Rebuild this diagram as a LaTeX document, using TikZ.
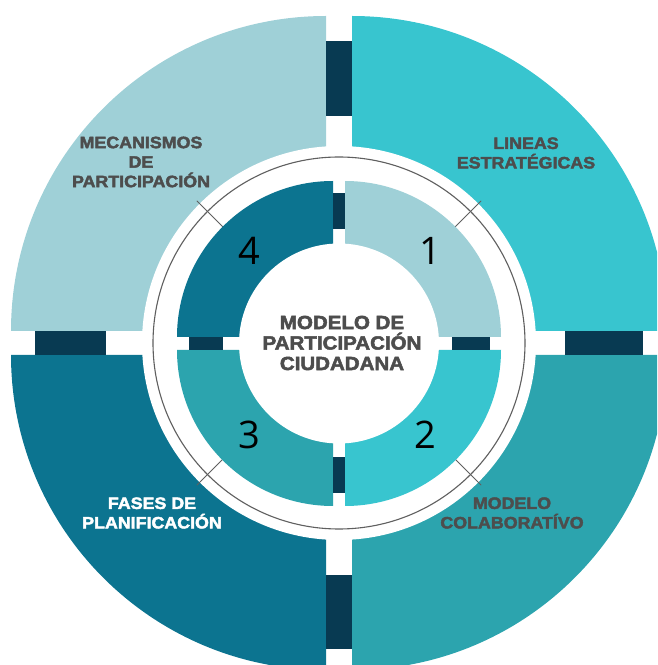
\documentclass[tikz,border=0pt]{standalone}
\usepackage{fontspec}
\setmainfont{Liberation Sans}
\newfontfamily\heavyfont{Liberation Sans Bold}[FakeBold=2.6, FakeStretch=1.08]
\newfontfamily\numfont{Open Sans}
\definecolor{qlight}{HTML}{9FD0D7}
\definecolor{qcyan}{HTML}{38C5CF}
\definecolor{qdark}{HTML}{0C7490}
\definecolor{qmed}{HTML}{2CA4AE}
\definecolor{qnavy}{HTML}{083A52}
\definecolor{tgray}{HTML}{4D4D4D}
\tikzset{
  barfill/.style={fill=qnavy},
  ringline/.style={draw=tgray!90, line width=1.1pt},
  tickline/.style={draw=tgray!90, line width=0.8pt},
  outertext/.style={font=\heavyfont\fontsize{16.5}{19.5}\selectfont, align=center, inner sep=0pt},
  centertext/.style={font=\heavyfont\fontsize{19}{20.5}\selectfont, align=center, inner sep=0pt, text=tgray},
  numtext/.style={font=\numfont\fontsize{38}{40}\selectfont, inner sep=0pt, text=black}
}
\begin{document}
\begin{tikzpicture}[x=1pt,y=1pt]
\useasboundingbox (0,0) rectangle (657,665);
\clip (0,0) rectangle (657,665);
% outer quadrants
\fill[qlight] (326,334) -- ++(180:315) arc[start angle=180,end angle=90,radius=315] -- cycle;
\fill[qcyan]  (352,334) -- ++(90:315) arc[start angle=90,end angle=0,radius=315] -- cycle;
\fill[qdark]  (326,310) -- ++(270:315) arc[start angle=270,end angle=180,radius=315] -- cycle;
\fill[qmed]   (352,310) -- ++(0:315) arc[start angle=0,end angle=-90,radius=315] -- cycle;
% outer bars
\fill[barfill] (326,549) rectangle (352,624);
\fill[barfill] (326,16) rectangle (352,90);
\fill[barfill] (35,310) rectangle (106,334);
\fill[barfill] (565,310) rectangle (643,334);
% white ring
\fill[white] (339,322) circle[radius=197];
\draw[ringline] (339,322) circle[radius=186];
\foreach \a in {45,135,225,315}
  \draw[tickline] ([shift={(\a:160)}]339,322) -- ([shift={(\a:201)}]339,322);
% inner quadrants
\fill[qdark]  (333,328) -- ++(180:156) arc[start angle=180,end angle=90,radius=156] -- cycle;
\fill[qlight] (345,328) -- ++(90:156) arc[start angle=90,end angle=0,radius=156] -- cycle;
\fill[qmed]   (333,315) -- ++(270:156) arc[start angle=270,end angle=180,radius=156] -- cycle;
\fill[qcyan]  (345,315) -- ++(0:156) arc[start angle=0,end angle=-90,radius=156] -- cycle;
% inner bars
\fill[barfill] (333,436) rectangle (345,472);
\fill[barfill] (333,172) rectangle (345,208);
\fill[barfill] (189,315) rectangle (223,328);
\fill[barfill] (452,315) rectangle (490,328);
% centre disc
\fill[white] (339,321.5) circle[radius=100];
% texts
\node[outertext, text=tgray] (mec) at (141,503) {MECANISMOS\\DE\\PARTICIPACIÓN};
\node[outertext, text=tgray] (lin) at (526,512) {LINEAS\\ESTRATÉGICAS};
\node[outertext, text=white] (fas) at (152,152) {FASES DE\\PLANIFICACIÓN};
\node[outertext, text=tgray] (mod) at (512,152) {MODELO\\COLABORATÍVO};
\node[centertext] (cen) at (342,322) {MODELO DE\\PARTICIPACIÓN\\CIUDADANA};
\node[numtext] (n1) at (430,414) {1};
\node[numtext] (n2) at (425,230) {2};
\node[numtext] (n3) at (249,230) {3};
\node[numtext] (n4) at (249,414) {4};
\end{tikzpicture}
\end{document}
